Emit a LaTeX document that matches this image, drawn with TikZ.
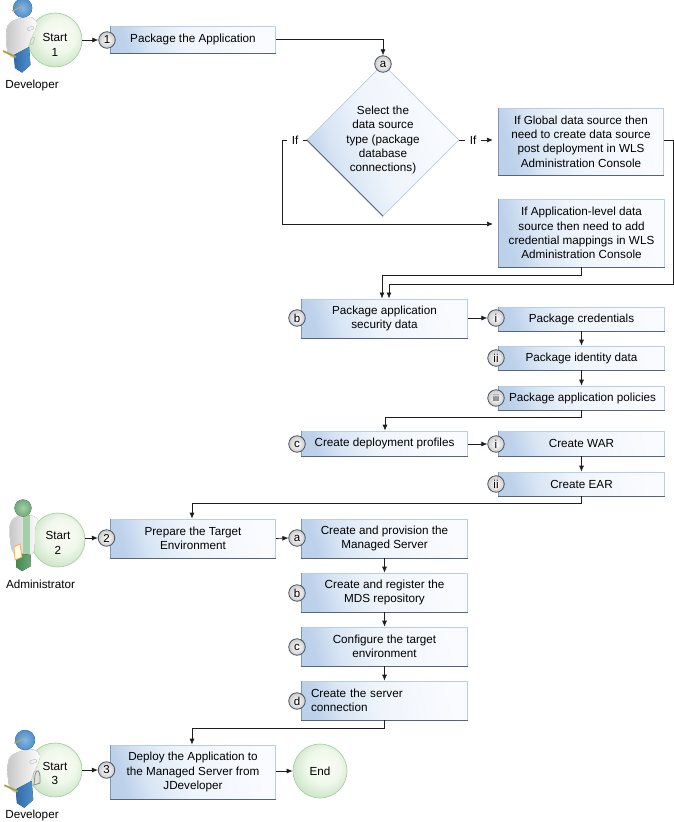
\documentclass[tikz,border=0pt]{standalone}
\usepackage{fontspec}
\setmainfont{Liberation Sans}
\usetikzlibrary{arrows.meta,shapes.geometric}

\definecolor{lineink}{HTML}{1E1E1E}
\definecolor{boxline}{HTML}{B9CDE5}
\definecolor{boxdark}{HTML}{56647A}
\definecolor{boxside}{HTML}{8595AD}
\definecolor{startline}{HTML}{A6D0A2}
\definecolor{devblue}{HTML}{4F8FCB}
\definecolor{devdark}{HTML}{2F6DAA}
\definecolor{devlight}{HTML}{86B6E2}
\definecolor{admgreen}{HTML}{6FA87C}
\definecolor{admdark}{HTML}{3F8A50}
\definecolor{admlight}{HTML}{A3D0A6}
\definecolor{capline}{HTML}{D9A441}
\definecolor{toolbelt}{HTML}{A8A050}

\pgfdeclarehorizontalshading{boxshade}{100bp}{rgb(0bp)=(0.70,0.79,0.90); rgb(25bp)=(0.74,0.82,0.92);
  rgb(34bp)=(0.85,0.90,0.96); rgb(48bp)=(0.94,0.96,0.985); rgb(75bp)=(0.98,0.985,1); rgb(100bp)=(0.98,0.985,1)}
\pgfdeclareradialshading{startshade}{\pgfpoint{5bp}{6bp}}{rgb(0bp)=(0.98,0.99,0.96);
  rgb(16bp)=(0.94,0.97,0.92); rgb(32bp)=(0.76,0.88,0.74); rgb(50bp)=(0.76,0.88,0.74)}

\tikzset{
  taskbox/.style={shading=boxshade,shading angle=15,draw=boxline,line width=.7pt,inner sep=0pt,
    minimum width=165.5pt,align=center,font=\fontsize{11.7}{14.3}\selectfont,
    append after command={(\tikzlastnode.north west) edge[draw=boxside,line width=.5pt] (\tikzlastnode.south west)
      (\tikzlastnode.south west) edge[draw=boxdark,line width=1pt] (\tikzlastnode.south east)}},
  startball/.style={circle,shading=startshade,draw=startline,line width=.7pt,inner sep=0pt,
    minimum size=54pt,align=center,font=\fontsize{11.7}{14.3}\selectfont},
  stepdot/.style={circle,draw=boxdark!80!black,line width=.8pt,inner color=white,outer color=black!20,
    inner sep=0pt,minimum size=16.5pt,font=\fontsize{11.5}{12}\selectfont},
  flow/.style={draw=lineink,line width=.7pt,-{Latex[length=6pt,width=5pt]}},
  wire/.style={draw=lineink,line width=.7pt},
  roletext/.style={font=\fontsize{11.7}{13}\selectfont,inner sep=0pt},
  iftext/.style={font=\fontsize{11.7}{13}\selectfont,inner sep=5pt},
  developer/.pic={
    \fill[left color=black!22,right color=white,draw=black!10]
      plot[smooth cycle] coordinates {(15,20) (30,17) (37,23) (33,35) (28,47) (27,53) (15,58) (8,53) (6,36) (8,25)};
    \draw[black!25,line width=.5pt,rounded corners=1pt] (27,28) -- (33,26) -- (34,29) -- (28,31) -- cycle
      (31,38) -- (35,37) -- (33,44) -- (30,45) -- cycle;
    \fill[left color=devdark,right color=devblue]
      (14,55) -- (29,47) -- (30.5,65) -- (22,72.5) -- (15,68) -- cycle;
    \fill[inner color=devlight,outer color=devblue] (22.7,8) circle (9.5pt);
    \draw[capline,line width=.9pt] (12,11) -- (22,6.5);
    \draw[toolbelt,line width=1.8pt] (3,51) -- (16,57);
  },
  administrator/.pic={
    \fill[left color=black!22,right color=white,draw=black!10]
      plot[smooth cycle] coordinates {(14,23) (21,20) (33,21) (38,25) (35,34) (33,58) (14,58) (10,43) (10,30)};
    \fill[admlight] (23,20) -- (30,20) -- (30,60) -- (23,60) -- cycle;
    \fill[left color=admdark,right color=admgreen]
      (16,58) -- (30.5,60) -- (31,71) -- (22,76) -- (16,72) -- cycle;
    \fill[draw=orange!70!white,fill=yellow!10,line width=.7pt] (14,52) -- (20,49) -- (22,62) -- (15,65) -- cycle;
    \fill[inner color=admlight,outer color=admgreen] (23,13) circle (8.5pt);
  }
}

\begin{document}
\begin{tikzpicture}[x=1pt,y=-1pt]
  \useasboundingbox (0,0) rectangle (674,822);

  \coordinate (mergeR) at (673,284);
  \coordinate (mergeL) at (382,275);
  \coordinate (inR) at (389,298.5);
  \coordinate (inL) at (382,298.5);
  \coordinate (loopL) at (282,224);
  \coordinate (loopEnd) at (493,224);
  \coordinate (bendPolicies) at (385,417);
  \coordinate (bendEar) at (192,503);
  \coordinate (bendServer) at (192,728);

  \node[startball] (start1) at (55,40) {\rule{0pt}{18pt}Start\\1};
  \node[startball] (start2) at (58,540) {\rule{0pt}{14pt}Start\\2};
  \node[startball] (start3) at (55,770) {\rule{0pt}{15pt}Start\\3};
  \node[startball] (finish) at (320,771) {End};

  \pic at (0,0) {developer};
  \pic at (0,495) {administrator};
  \pic[scale=1.05] at (1.2,731.6) {developer};
  \draw[black!45,line width=.8pt,fill=black!12] (35,775) .. controls (37,768) and (40,770) .. (40,778) -- (40,783) -- (34,785) -- cycle;

  \node[roletext] (role1) at (32,85) {Developer};
  \node[roletext] (role2) at (40.5,584) {Administrator};
  \node[roletext] (role3) at (32,815) {Developer};

  \node[taskbox,minimum height=27pt] (pkgapp) at (193,39.5) {Package the Application};
  \node[taskbox,minimum height=39pt] (prepare) at (193,538.5) {Prepare the Target\\Environment};
  \node[taskbox,minimum height=54pt] (deploy) at (193,772) {Deploy the Application to\\the Managed Server from\\JDeveloper};

  \node[diamond,shading=boxshade,shading angle=20,draw=boxline,line width=.7pt,inner sep=0pt,
    minimum width=152pt,minimum height=152pt,align=center,font=\fontsize{11.7}{14.3}\selectfont,
    append after command={(\tikzlastnode.west) edge[draw=boxdark,line width=.9pt] (\tikzlastnode.south)}]
    (select) at (383,140) {Select the\\data source\\type (package\\database\\connections)};
  \node[iftext] (ifleft) at (295,140) {If};
  \node[iftext] (ifright) at (473,140) {If};

  \node[taskbox,minimum height=67pt] (global) at (581,141.5)
    {If Global data source then\\need to create data source\\post deployment in WLS\\Administration Console};
  \node[taskbox,minimum height=68pt] (applevel) at (581.5,233)
    {If Application-level data\\source then need to add\\credential mappings in WLS\\Administration Console};

  \node[taskbox,minimum height=39pt] (secdata) at (384.5,318.5) {Package application\\security data};
  \node[taskbox,minimum height=24pt] (creds) at (581.5,319) {Package credentials};
  \node[taskbox,minimum height=24pt] (identity) at (581.5,358) {Package identity data};
  \node[taskbox,minimum height=24pt] (policies) at (581.5,398) {\hspace*{2pt}Package application policies};
  \node[taskbox,minimum height=25pt] (profiles) at (384.5,443.5) {Create deployment profiles};
  \node[taskbox,minimum height=25pt] (war) at (581.5,443.5) {Create WAR};
  \node[taskbox,minimum height=24pt] (ear) at (581.5,484) {Create EAR};

  \node[taskbox,minimum height=39pt] (provision) at (384.5,538.5) {Create and provision the\\Managed Server};
  \node[taskbox,minimum height=39pt] (register) at (384.5,592.5) {Create and register the\\MDS repository};
  \node[taskbox,minimum height=39pt] (configure) at (384.5,646.5) {Configure the target\\environment};
  \node[taskbox,minimum height=39pt,text width=147pt,align=left] (connect) at (384.5,700.5) {Create the server\\connection};

  \node[stepdot] (dot1) at (107,40) {1};
  \node[stepdot] (dot2) at (106.5,538) {2};
  \node[stepdot] (dot3) at (106.5,770) {3};
  \node[stepdot] (dota) at (383,64) {a};
  \node[stepdot] (dotb) at (297,318) {b};
  \node[stepdot] (doti) at (496,318) {i};
  \node[stepdot] (dotii) at (496,358) {ii};
  \node[stepdot,font=\fontsize{9}{10}\selectfont] (dotiii) at (496,398) {iii};
  \node[stepdot] (dotc) at (297,444) {c};
  \node[stepdot] (dotwi) at (496,444) {i};
  \node[stepdot] (dotwii) at (496,484) {ii};
  \node[stepdot] (dotpa) at (297,538) {a};
  \node[stepdot] (dotpb) at (297,593) {b};
  \node[stepdot] (dotpc) at (297,647) {c};
  \node[stepdot] (dotpd) at (297,701) {d};

  \draw[flow] (start1.east) -- (dot1.west);
  \draw[flow] (start2.east |- dot2) -- (dot2.west);
  \draw[flow] (start3.east) -- (dot3.west);
  \draw[flow] (pkgapp.east) -| (dota.north);

  \draw[wire] (select.west) -- (ifleft.east);
  \draw[flow] (ifleft.west) -| (loopL) -- (loopEnd);
  \draw[wire] (select.east) -- (ifright.west);
  \draw[flow,shorten >=5pt] (ifright.east) -- (ifright.east -| global.west);
  \draw[flow] (ifright.east -| global.east) -| (mergeR) -| (inR);
  \draw[flow] (applevel.south) |- (mergeL) -- (inL);

  \draw[flow] (secdata.east |- doti) -- (doti.west);
  \draw[flow] (creds.south) -- (identity.north);
  \draw[flow] (identity.south) -- (policies.north);
  \draw[flow] (policies.south) |- (bendPolicies) -- (profiles.north -| bendPolicies);
  \draw[flow] (profiles.east |- dotwi) -- (dotwi.west);
  \draw[flow] (war.south) -- (ear.north);
  \draw[flow] (ear.south) |- (bendEar) -- (prepare.north -| bendEar);

  \draw[flow] (prepare.east) -- (dotpa.west);
  \draw[flow] (provision.south) -- (register.north);
  \draw[flow] (register.south) -- (configure.north);
  \draw[flow] (configure.south) -- (connect.north);
  \draw[flow] (connect.south) |- (bendServer) -- (deploy.north -| bendServer);
  \draw[flow] (deploy.east |- finish) -- (finish.west);
\end{tikzpicture}
\end{document}
